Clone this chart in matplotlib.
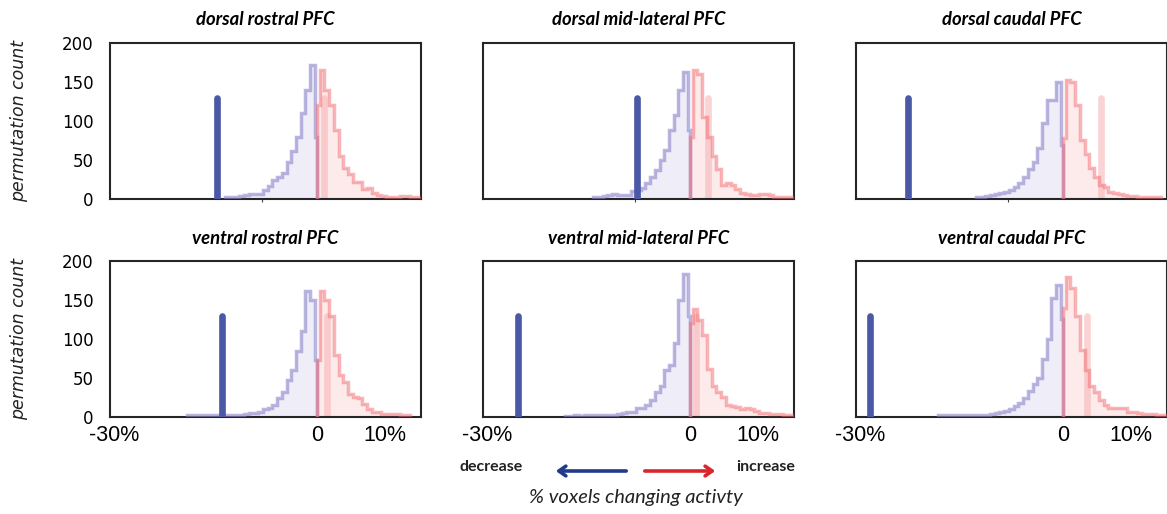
import numpy as np
import matplotlib
matplotlib.use("Agg")
import matplotlib.pyplot as plt

# permutation histograms, counts per bin read outward from 0
# (first bin is a half bin next to 0, the rest are full bins)
bin_width = 0.7
half_bin = 0.35

titles = ["dorsal rostral PFC", "dorsal mid-lateral PFC", "dorsal caudal PFC",
          "ventral rostral PFC", "ventral mid-lateral PFC", "ventral caudal PFC"]

dorsal_rostral_dec = [80, 172, 140, 110, 80, 62, 48, 33, 28, 24, 17, 12, 7, 6, 6, 5, 4, 3, 3, 2]
dorsal_rostral_inc = [120, 165, 140, 120, 88, 55, 40, 32, 22, 22, 13, 14, 8, 5, 4, 3, 3, 3, 4, 4, 3, 3]

dorsal_mid_dec = [88, 163, 140, 108, 88, 63, 50, 37, 28, 20, 14, 11, 10, 5, 5, 5, 6, 5, 4, 3, 3]
dorsal_mid_inc = [80, 165, 160, 105, 80, 55, 38, 18, 20, 18, 13, 8, 6, 5, 5, 7, 7, 5, 3, 3, 3, 2]

dorsal_caudal_dec = [69, 150, 127, 127, 97, 66, 48, 38, 28, 20, 15, 12, 9, 8, 6, 5, 4, 3, 2]
dorsal_caudal_inc = [78, 153, 150, 120, 75, 58, 40, 28, 18, 15, 9, 8, 6, 5, 4, 4, 3, 3, 3, 3, 2]

ventral_rostral_dec = [73, 150, 161, 110, 85, 60, 47, 32, 25, 16, 12, 10, 6, 5, 5, 4, 3, 3,
                       2, 2, 2, 2, 2, 2, 2, 2, 2, 2]
ventral_rostral_inc = [73, 161, 150, 130, 80, 54, 45, 30, 26, 25, 17, 10, 6, 6, 4, 4, 4, 4, 3, 3]

ventral_mid_dec = [129, 183, 150, 95, 67, 60, 40, 32, 22, 15, 12, 12, 7, 7, 5, 4, 3, 3, 3,
                   2, 2, 2, 2, 1, 2, 1, 1]
ventral_mid_inc = [120, 139, 125, 105, 62, 40, 32, 26, 16, 14, 13, 10, 11, 10, 8, 5, 5, 4, 4, 4, 3, 3]

ventral_caudal_dec = [126, 169, 152, 100, 75, 50, 42, 33, 25, 18, 14, 10, 8, 7, 5, 4, 3, 3, 3,
                      3, 3, 2, 2, 2, 2, 2, 2]
ventral_caudal_inc = [140, 179, 165, 130, 86, 60, 40, 32, 22, 15, 11, 11, 12, 11, 7, 7, 5, 4, 4, 4, 3, 3]

# observed % of voxels decreasing / increasing
observed_dec = [-14.8, -7.8, -22.9, -14.1, -25.4, -28.5]
observed_inc = [1.0, 2.6, 5.6, 1.4, 0.9, 3.5]
marker_height = 130

dec_counts = [dorsal_rostral_dec, dorsal_mid_dec, dorsal_caudal_dec,
              ventral_rostral_dec, ventral_mid_dec, ventral_caudal_dec]
inc_counts = [dorsal_rostral_inc, dorsal_mid_inc, dorsal_caudal_inc,
              ventral_rostral_inc, ventral_mid_inc, ventral_caudal_inc]

xticks = [-30, 0, 10]
xticklabels = ["-30%", "0", "10%"]
yticks = [0, 50, 100, 150, 200]

W, H = 1167, 514
fig = plt.figure(figsize=(W / 100, H / 100), dpi=100)


def edges_out(n):
    return np.r_[0.0, half_bin + bin_width * np.arange(n)]


col_left = [110, 483, 856]
row_bottom = [199, 417]
ax_w, ax_h = 311, 156

for i in range(6):
    r, c = divmod(i, 3)
    ax = fig.add_axes([col_left[c] / W, 1 - row_bottom[r] / H, ax_w / W, ax_h / H])

    dec = np.array(dec_counts[i])[::-1]
    dec_edges = -edges_out(len(dec_counts[i]))[::-1]
    inc = np.array(inc_counts[i])
    inc_edges = edges_out(len(inc))

    ax.stairs(dec, dec_edges, fill=True, color="#efedf8", lw=0)
    ax.stairs(inc, inc_edges, fill=True, color="#fdeaea", lw=0)
    ax.plot([observed_inc[i]] * 2, [0, marker_height], color="#f6b0b2", alpha=0.55,
            lw=4.8, solid_capstyle="round", zorder=2)
    ax.stairs(dec, dec_edges, color="#8c86cc", alpha=0.6, lw=2.5, zorder=3)
    ax.stairs(inc, inc_edges, color="#f26a70", alpha=0.5, lw=2.5, zorder=3)
    ax.plot([observed_dec[i]] * 2, [0, marker_height], color="#4a58a5",
            lw=4.8, solid_capstyle="round", zorder=4)

    ax.set_xlim(-30.6, 15.3)
    ax.set_ylim(0, 200)
    for s in ax.spines.values():
        s.set_color("#262626")
        s.set_linewidth(1.5)

    ax.set_title(titles[i], fontsize=13.3, fontweight="bold", style="italic",
                 family="Lato", pad=13 if r == 0 else 12)

    if c == 0:
        ax.set_yticks(yticks)
        ax.tick_params(axis="y", length=0, pad=12, labelsize=12)
        ax.set_ylabel("permutation count", fontsize=12.5, style="italic", color="#222222")
        ax.yaxis.set_label_coords(-0.262, 0.5)
    else:
        ax.set_yticks([])

    if r == 1:
        ax.set_xticks(xticks)
        ax.set_xticklabels(xticklabels, family="Liberation Sans", fontsize=15.5)
        ax.tick_params(axis="x", length=0, pad=6)
    else:
        ax.set_xticks([-8.1])
        ax.set_xticklabels([""])
        ax.tick_params(axis="x", length=2, width=0.8, color="#444444")

# direction legend under the middle column
fig.text(491 / W, 1 - 467 / H, "decrease", ha="center", va="center",
         family="Lato", fontweight="bold", fontsize=11.5, color="#222222")
fig.text(766 / W, 1 - 467 / H, "increase", ha="center", va="center",
         family="Lato", fontweight="bold", fontsize=11.5, color="#222222")
fig.text(636 / W, 1 - 497 / H, "% voxels changing activty", ha="center", va="center",
         family="Lato", style="italic", fontsize=14.5, color="#222222")

arrow_y = 1 - 471 / H
fig.add_artist(matplotlib.patches.FancyArrowPatch(
    (629 / W, arrow_y), (553 / W, arrow_y), transform=fig.transFigure,
    arrowstyle="->,head_length=5,head_width=3.5", lw=2.6, color="#203a8c"))
fig.add_artist(matplotlib.patches.FancyArrowPatch(
    (642 / W, arrow_y), (718 / W, arrow_y), transform=fig.transFigure,
    arrowstyle="->,head_length=5,head_width=3.5", lw=2.6, color="#d9262c"))

fig.savefig("out.png", dpi=100, facecolor="white")
